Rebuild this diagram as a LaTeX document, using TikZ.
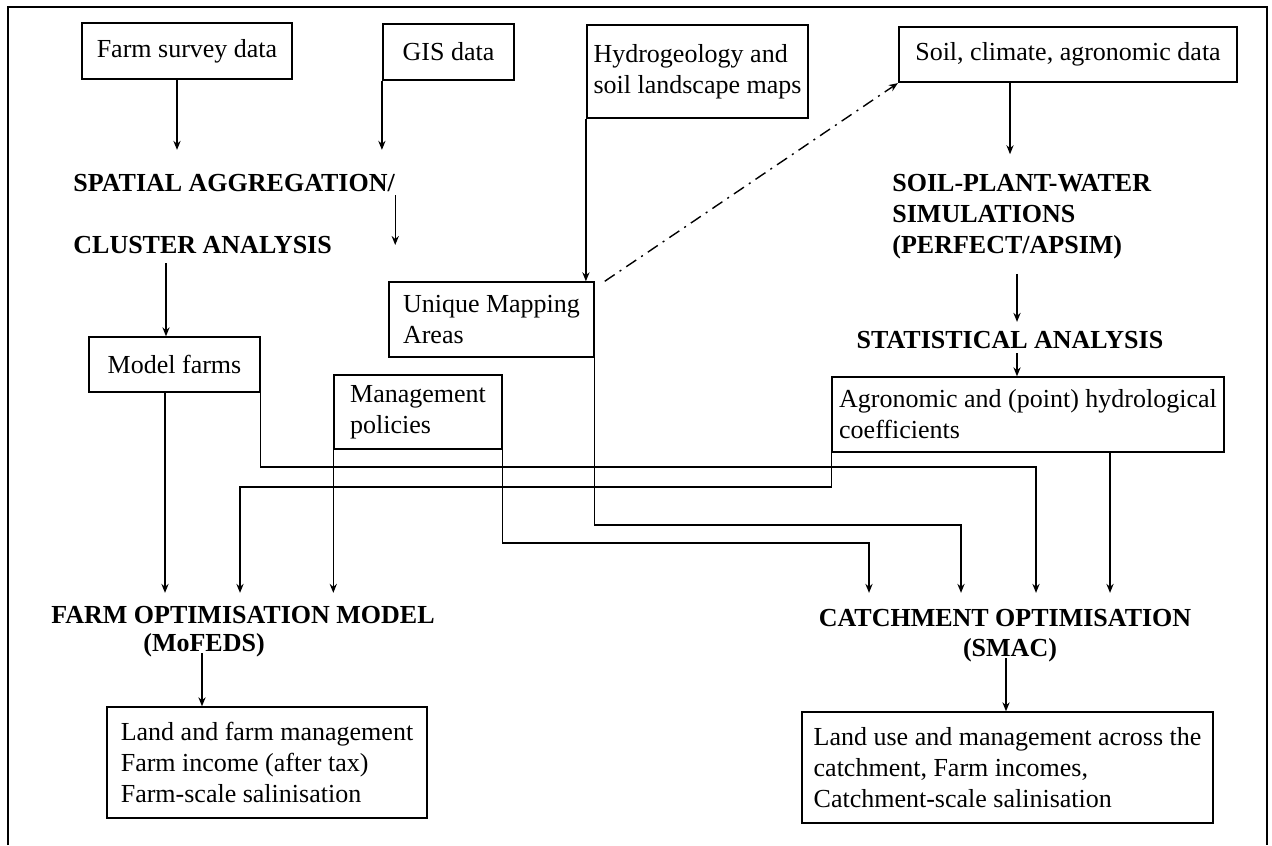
\documentclass[tikz,border=0pt]{standalone}
\usepackage{fontspec}
\setmainfont{Liberation Serif}
\usepackage{xcolor}
\usetikzlibrary{arrows.meta}

\begin{document}
\begin{tikzpicture}[x=0.5pt, y=-0.5pt,
		every node/.style={font=\fontsize{13}{15.5}\selectfont},
		databox/.style={rectangle, draw, line width=1.1pt, inner sep=0pt, align=center},
		infobox/.style={rectangle, draw, line width=0.7pt, inner sep=0pt, align=left},
		stage/.style={font=\fontsize{13}{15.5}\selectfont\bfseries, inner sep=0pt},
		link/.style={-{Stealth[length=4.5pt, width=3.6pt]}, line width=0.7pt},
		weaklink/.style={-{Stealth[length=4.5pt, width=3.6pt]}, line width=0.7pt, dash pattern=on 6pt off 3pt on 1pt off 3pt},
		]
		\useasboundingbox (0,0) rectangle (1272,845);
		\draw[line width=0.9pt] (8,845) -- (8,7) -- (1267,7) -- (1267,845);
		
		%Nodes
		\node[databox, minimum width=105pt, minimum height=28pt]   (survey)  at (187,51)     {Farm survey data};
		\node[databox, minimum width=65.5pt, minimum height=28pt]  (gis)     at (448.5,52)   {GIS data};
		\node[databox, align=left, minimum width=110.5pt, minimum height=46.5pt] (hydro) at (697.5,71.5) {Hydrogeology and\\soil landscape maps};
		\node[databox, minimum width=169pt, minimum height=27.5pt] (soil)    at (1068,54.5)  {Soil, climate, agronomic data};
		
		\node[stage, anchor=west]             (spatial)  at (73,183)   {SPATIAL AGGREGATION/};
		\node[stage, anchor=west]             (cluster)  at (73,245)   {CLUSTER ANALYSIS};
		\node[stage, anchor=west, align=left] (simul)    at (892,217)  {SOIL-PLANT-WATER\\SIMULATIONS\\(PERFECT/APSIM)};
		\node[stage]                          (stats)    at (1010,340) {STATISTICAL ANALYSIS};
		
		\node[infobox, minimum width=102.5pt, minimum height=37.5pt] (mapping) at (491.5,319.5) {Unique Mapping\\Areas};
		\node[infobox, align=center, minimum width=85.5pt, minimum height=27.5pt] (farms) at (174.5,364.5) {Model farms};
		\node[infobox, minimum width=84pt, minimum height=37pt]      (policy)  at (418,412)     {Management\\policies};
		\node[infobox, minimum width=196pt, minimum height=37.5pt]   (agro)    at (1028,414.5)  {Agronomic and (point) hydrological\\coefficients};
		
		\node[stage, anchor=west] (farmopt)  at (51,615)   {FARM OPTIMISATION MODEL};
		\node[stage]              (mofeds)   at (204,645)  {(MoFEDS)};
		\node[stage]              (catchopt) at (1005,618) {CATCHMENT OPTIMISATION};
		\node[stage]              (smac)     at (1010,650) {(SMAC)};
		
		\node[infobox, minimum width=160pt, minimum height=55.5pt]   (farmout)  at (267,762.5)   {Land and farm management\\Farm income (after tax)\\Farm-scale salinisation};
		\node[infobox, minimum width=205.5pt, minimum height=55.5pt] (catchout) at (1007.5,767.5) {Land use and management across the\\catchment, Farm incomes,\\Catchment-scale salinisation};
		
		% Columns and bends
		\coordinate (c-survey) at (177,0);
		\coordinate (c-cluster) at (166,0);
		\coordinate (c-soil) at (1010,0);
		\coordinate (c-simul) at (1017,0);
		\coordinate (c-farms) at (165,0);
		\coordinate (c-agro) at (1110,0);
		\coordinate (c-mofeds) at (202,0);
		\coordinate (c-smac) at (1006,0);
		\coordinate (b-farms) at (1036,467);
		\coordinate (b-agro) at (240,487);
		\coordinate (b-mapping) at (961,525);
		\coordinate (b-policy) at (869,543);
		
		%Lines
		\draw[link, shorten >=12pt] (survey.south -| c-survey) -- (spatial.north -| c-survey);
		\draw[link, shorten >=12pt] (gis.south west) -- (gis.south west |- spatial.north);
		\draw[link, shorten <=1.5pt] (spatial.south east) -- (spatial.south east |- cluster.east);
		\draw[link, shorten <=4.5pt] (cluster.south -| c-cluster) -- (farms.north -| c-cluster);
		\draw[link] (hydro.south west) -- (hydro.south west |- mapping.north);
		\draw[weaklink] ([xshift=5pt]mapping.north east) -- (soil.south west);
		\draw[link, shorten >=10pt] (soil.south -| c-soil) -- (simul.north -| c-soil);
		\draw[link, shorten <=7pt, shorten >=4.5pt] (simul.south -| c-simul) -- (stats.north -| c-simul);
		\draw[link, shorten <=2pt] (stats.south -| c-simul) -- (agro.north -| c-simul);
		
		% into the farm model
		\draw[link, shorten >=6.5pt] (farms.south -| c-farms) -- (farmopt.north -| c-farms);
		\draw[link, shorten >=6.5pt] (agro.south west) |- (b-agro) -- (b-agro |- farmopt.north);
		\draw[link, shorten >=6.5pt] (policy.south west) -- (policy.south west |- farmopt.north);
		
		% into the catchment model
		\draw[link, shorten >=8pt] (farms.south east) |- (b-farms) -- (b-farms |- catchopt.north);
		\draw[link, shorten >=8pt] (mapping.south east) |- (b-mapping) -- (b-mapping |- catchopt.north);
		\draw[link, shorten >=8pt] (policy.south east) |- (b-policy) -- (b-policy |- catchopt.north);
		\draw[link, shorten >=8pt] (agro.south -| c-agro) -- (catchopt.north -| c-agro);
		
		% results
		\draw[link, shorten <=-2pt] (mofeds.south -| c-mofeds) -- (farmout.north -| c-mofeds);
		\draw[link, shorten <=-2pt] (smac.south -| c-smac) -- (catchout.north -| c-smac);
	\end{tikzpicture}
\end{document}
